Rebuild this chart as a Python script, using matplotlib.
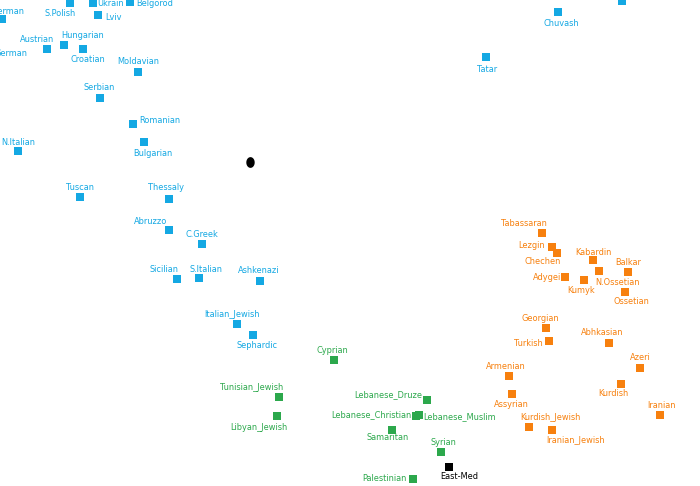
"""PCA-style population scatter with labelled squares."""
import numpy as np
import matplotlib.pyplot as plt

plt.rcParams.update({'figure.dpi': 100, 'savefig.dpi': 100})

BLUE = '#14a8e3'
GREEN = '#2ca84c'
ORANGE = '#f7800e'

# blue group: name, x, y (pixel-like plot units, y grows downward)
blue_names = ['German', 'S.Polish', 'Ukrain', 'Belgorod', 'Lviv', 'Austrian', 'Hungarian',
              'Croatian', 'Moldavian', 'Serbian', 'Romanian', 'Bulgarian', 'N.Italian',
              'Tuscan', 'Thessaly', 'Abruzzo', 'C.Greek', 'Sicilian', 'S.Italian',
              'Ashkenazi', 'Italian_Jewish', 'Sephardic', 'Chuvash', 'Tatar', '']
blue_x = [2, 70, 93, 130, 98, 47, 64, 83, 138, 100, 133, 144, 18,
          80, 169, 169, 202, 177, 199, 260, 237, 253, 558, 486, 622]
blue_y = [19, 3, 3, 2, 15, 49, 45, 49, 72, 98, 124, 142, 151,
          197, 199, 230, 244, 279, 278, 281, 324, 335, 12, 57, 1]

green_names = ['Cyprian', 'Tunisian_Jewish', 'Libyan_Jewish', 'Lebanese_Druze',
               'Lebanese_Christian', 'Lebanese_Muslim', 'Samaritan', 'Syrian', 'Palestinian']
green_x = [334, 279, 277, 427, 416, 419, 392, 441, 413]
green_y = [360, 397, 416, 400, 416, 415, 430, 452, 479]

orange_names = ['Tabassaran', 'Lezgin', 'Chechen', 'Kabardin', 'Balkar', 'N.Ossetian',
                'Adygei', 'Kumyk', 'Ossetian', 'Georgian', 'Turkish', 'Abhkasian',
                'Azeri', 'Armenian', 'Kurdish', 'Assyrian', 'Iranian', 'Kurdish_Jewish',
                'Iranian_Jewish']
orange_x = [542, 552, 557, 593, 628, 599, 565, 584, 625, 546, 549, 609,
            640, 509, 621, 512, 660, 529, 552]
orange_y = [233, 247, 253, 260, 272, 271, 277, 280, 292, 328, 341, 343,
            368, 376, 384, 394, 415, 427, 430]

ref_names = ['East-Med']
ref_x = [449]
ref_y = [467]

centroid_x = [250]
centroid_y = [162]

# label positions (text centre)
label_pos = {
    'German': (8, 11), 'S.Polish': (60, 14), 'Ukrain': (111, 3), 'Belgorod': (155, 4),
    'Lviv': (113, 17), 'Austrian': (37, 39), 'Hungarian': (83, 35), 'Croatian': (88, 60),
    'Moldavian': (138, 62), 'Serbian': (99, 88), 'Romanian': (160, 120),
    'Bulgarian': (153, 153), 'N.Italian': (18, 142), 'Tuscan': (80, 187),
    'Thessaly': (166, 187), 'Abruzzo': (151, 221), 'C.Greek': (202, 234),
    'Sicilian': (164, 269), 'S.Italian': (206, 269), 'Ashkenazi': (259, 270),
    'Italian_Jewish': (232, 314), 'Sephardic': (257, 345), 'Chuvash': (561, 23),
    'Tatar': (487, 69),
    'Cyprian': (332, 350), 'Tunisian_Jewish': (252, 387), 'Libyan_Jewish': (259, 427),
    'Lebanese_Druze': (388, 395), 'Lebanese_Christian': (371, 415),
    'Lebanese_Muslim': (460, 417), 'Samaritan': (388, 437), 'Syrian': (443, 442),
    'Palestinian': (384, 478), 'East-Med': (459, 476),
    'Tabassaran': (524, 223), 'Lezgin': (532, 245), 'Chechen': (543, 261),
    'Kabardin': (593, 252), 'Balkar': (628, 262), 'N.Ossetian': (618, 282),
    'Adygei': (547, 277), 'Kumyk': (581, 290), 'Ossetian': (631, 301),
    'Georgian': (540, 318), 'Turkish': (528, 343), 'Abhkasian': (602, 332),
    'Azeri': (640, 357), 'Armenian': (506, 366), 'Kurdish': (613, 393),
    'Assyrian': (511, 404), 'Iranian': (661, 405), 'Kurdish_Jewish': (550, 417),
    'Iranian_Jewish': (576, 440),
}
extra_labels = [('German', 11, 53, BLUE)]

FONT = dict(family='DejaVu Sans', stretch='condensed', fontsize=6.6)


def main():
    fig = plt.figure(figsize=(7, 4.86))
    ax = fig.add_axes([0, 0, 1, 1])
    ax.set_xlim(0, 700)
    ax.set_ylim(486, 0)
    ax.axis('off')

    groups = [
        (blue_names, blue_x, blue_y, BLUE),
        (green_names, green_x, green_y, GREEN),
        (orange_names, orange_x, orange_y, ORANGE),
        (ref_names, ref_x, ref_y, 'black'),
    ]
    for names, xs, ys, col in groups:
        ax.scatter(xs, ys, marker='s', s=26, color=col, linewidths=0, zorder=3)
        for name in names:
            if not name:
                continue
            lx, ly = label_pos[name]
            ax.text(lx, ly, name, ha='center', va='center', color=col,
                    clip_on=False, **FONT)

    for name, lx, ly, col in extra_labels:
        ax.text(lx, ly, name, ha='center', va='center', color=col,
                clip_on=False, **FONT)

    # oval centroid marker
    t = np.linspace(0, 2 * np.pi, 40)
    oval = np.column_stack([0.78 * np.cos(t), np.sin(t)])
    ax.scatter(centroid_x, centroid_y, marker=oval, s=60, color='black',
               linewidths=0, zorder=3)

    fig.savefig('out.png')
    plt.close(fig)


if __name__ == '__main__':
    main()
